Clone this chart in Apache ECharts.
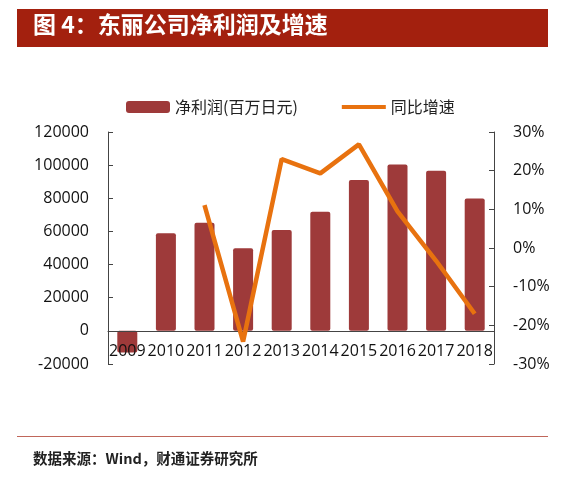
<!DOCTYPE html>
<html>
<head>
<meta charset="utf-8">
<script src="https://cdn.jsdelivr.net/npm/echarts@6/dist/echarts.min.js"></script>
<style>
  html, body { margin: 0; padding: 0; background: #fff; }
  #chart { width: 581px; height: 481px; }
</style>
</head>
<body>
<div id="chart"></div>
<script>
const years = ['2009', '2010', '2011', '2012', '2013', '2014', '2015', '2016', '2017', '2018'];
// 净利润 (百万日元)
const netProfit = [-13000, 58900, 65200, 49800, 60800, 71900, 91000, 100400, 96600, 79900];
// 同比增速 (%)
const growth = [null, null, 11.1, -24.2, 23.0, 19.3, 26.8, 9.5, -3.3, -17.0];

const cjk = '"Noto Sans CJK SC", sans-serif';
const num = '"Open Sans", sans-serif';

const chart = echarts.init(document.getElementById('chart'));

chart.setOption({
    animation: false,
    backgroundColor: '#fff',
    graphic: [
        { type: 'rect', shape: { x: 17, y: 9, width: 531, height: 38 }, style: { fill: '#A3200E' } },
        { type: 'text', left: 33, top: 13, style: { text: '图 4：东丽公司净利润及增速', fill: '#fff', font: 'bold 23px ' + cjk } },
        { type: 'rect', shape: { x: 17, y: 436, width: 531, height: 1 }, style: { fill: '#C0665A' } },
        { type: 'text', left: 33, top: 451, style: { text: '数据来源：Wind，财通证券研究所', fill: '#222', font: 'bold 14.5px ' + cjk } }
    ],
    legend: {
        left: 121,
        top: 94,
        itemGap: 44,
        itemWidth: 44,
        itemHeight: 12,
        textStyle: { fontFamily: cjk, fontSize: 16, color: '#222' },
        data: [
            { name: '净利润(百万日元)', icon: 'roundRect' },
            { name: '同比增速', icon: 'path://M0,0 M44,12 M0,4 L44,4 L44,8 L0,8 Z' }
        ]
    },
    grid: { left: 108, right: 87, top: 132, bottom: 117, containLabel: false },
    xAxis: {
        type: 'category',
        data: years,
        z: 3,
        axisLine: { onZero: true, lineStyle: { color: '#444', width: 1 } },
        axisTick: { inside: true, length: 5, lineStyle: { color: '#444' } },
        axisLabel: { interval: 0, margin: -21, color: '#111', fontFamily: num, fontSize: 16 }
    },
    yAxis: [
        {
            type: 'value',
            min: -20000,
            max: 120000,
            interval: 20000,
            splitLine: { show: false },
            axisLine: { show: true, lineStyle: { color: '#444' } },
            axisTick: { show: true, inside: true, length: 5, lineStyle: { color: '#444' } },
            axisLabel: { margin: 19, color: '#111', fontFamily: num, fontSize: 16, formatter: v => String(v) }
        },
        {
            type: 'value',
            min: -30,
            max: 30,
            interval: 10,
            splitLine: { show: false },
            axisLine: { show: true, lineStyle: { color: '#444' } },
            axisTick: { show: true, inside: true, length: 5, lineStyle: { color: '#444' } },
            axisLabel: { margin: 19, color: '#111', fontFamily: num, fontSize: 16, formatter: v => v + '%' }
        }
    ],
    series: [
        {
            name: '净利润(百万日元)',
            type: 'bar',
            data: netProfit,
            barWidth: 20,
            itemStyle: { color: '#9E3A3A', borderRadius: 2 }
        },
        {
            name: '同比增速',
            type: 'line',
            yAxisIndex: 1,
            z: 4,
            data: growth,
            symbol: 'none',
            lineStyle: { color: '#E8720F', width: 4.5 },
            itemStyle: { color: '#E8720F' }
        }
    ]
});
</script>
</body>
</html>
